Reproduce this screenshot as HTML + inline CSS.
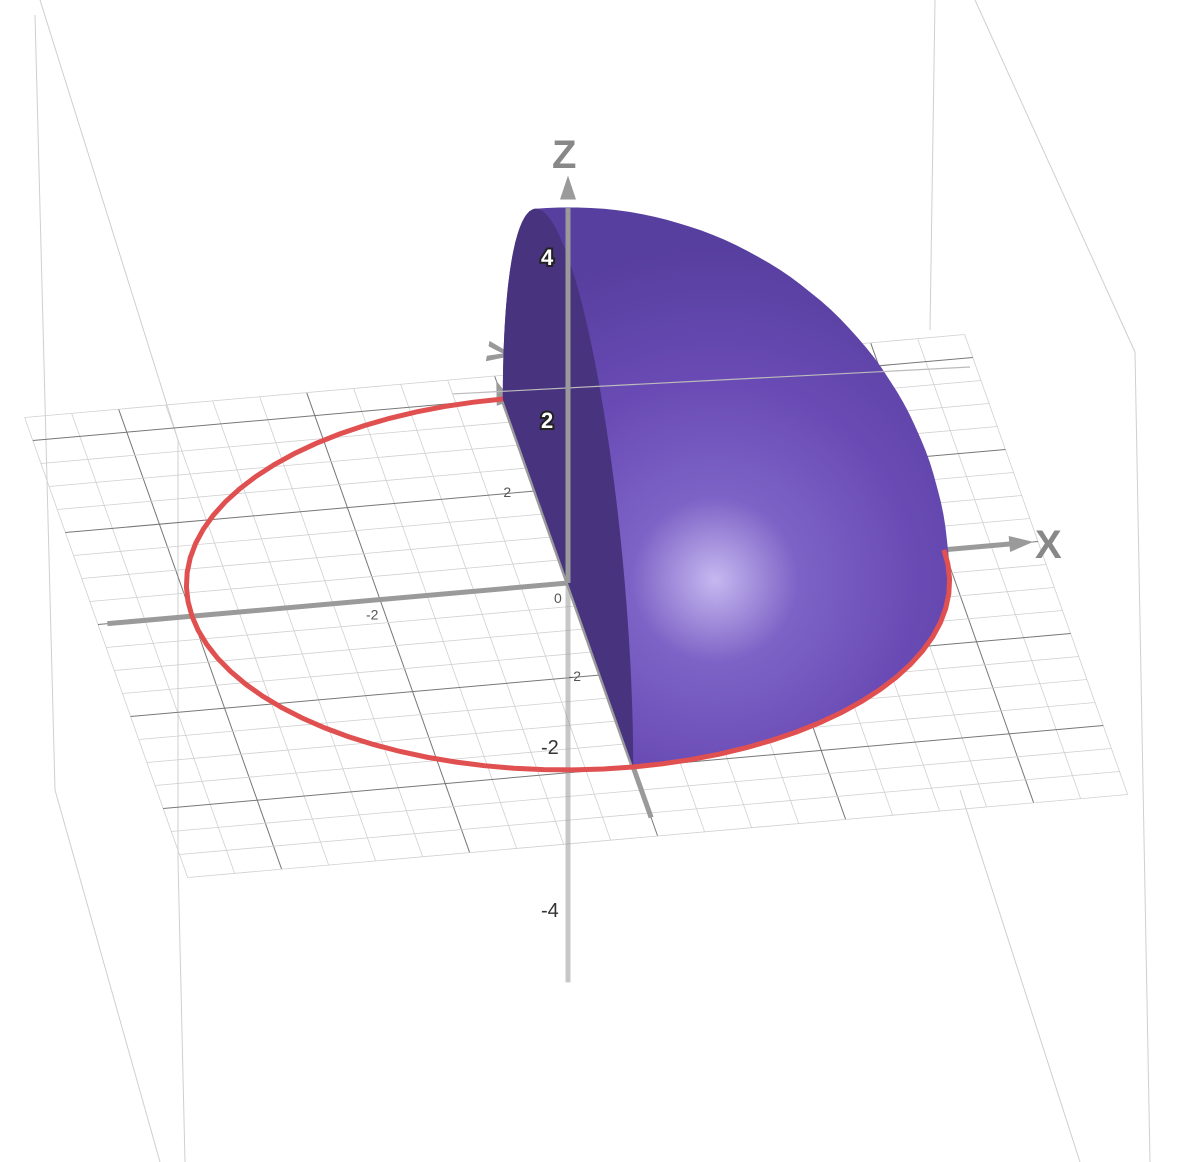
<!DOCTYPE html>
<html><head><meta charset="utf-8"><style>
html,body{margin:0;padding:0;background:#fff;}
svg{display:block;font-family:"Liberation Sans",sans-serif;}
</style></head><body>
<svg id="c" width="1180" height="1162" viewBox="0 0 1180 1162">
<defs>
<radialGradient id="sph" cx="715" cy="580" r="330" gradientUnits="userSpaceOnUse">
<stop offset="0" stop-color="#c6b8f0"/><stop offset="0.25" stop-color="#7d63c6"/><stop offset="0.6" stop-color="#6a4bb5"/><stop offset="1" stop-color="#573f9f"/>
</radialGradient>
</defs>
<g id="box" stroke="#c8c8c8" stroke-width="1" fill="none"></g>
<g id="grid"></g>
<g id="axes"></g>
<g id="back"></g>
<g id="surf"></g>
<g id="front"></g>
</svg>
<script>
const radius = 4;
const zTicks = [-4, -2, 2, 4];
const xTicks = [-2, 0];
const yTicks = [2, -2];
const gridXRange = [-5, 5];
const gridYRange = [-5.5, 4.5];
const O=[568,583], EX=[94,-8.3], EY=[-16.3,-46], EZ=[0,-81.5];
function P(x,y,z){return [O[0]+x*EX[0]+y*EY[0]+z*EZ[0], O[1]+x*EX[1]+y*EY[1]+z*EZ[1]];}
const NS='http://www.w3.org/2000/svg';
function mk(par,tag,at){const e=document.createElementNS(NS,tag);for(const k in at)e.setAttribute(k,at[k]);document.getElementById(par).appendChild(e);return e;}
function line(par,a,b,st,w){return mk(par,'line',{x1:a[0],y1:a[1],x2:b[0],y2:b[1],stroke:st,'stroke-width':w});}
const boxL=[[[35,15],[55,790]],[[40,0],[178,440]],[[935,0],[930,330]],[[975,0],[1135,352]],[[1135,352],[1150,1162]],[[178,860],[185,1162]],[[55,790],[160,1162]],[[960,790],[1080,1162]],[[178,440],[178,860]]];
boxL.forEach(l=>{const e=line('box',l[0],l[1],'#cfcfcf',1);

});
for(let x=gridXRange[0];x<=gridXRange[1]+1e-9;x+=0.5){const major=Math.abs(x%2)<1e-9;
const e=line('grid',P(x,gridYRange[0],0),P(x,gridYRange[1],0),major?'#777':'#d0d0d0',major?1:0.8);

}
for(let y=gridYRange[0];y<=gridYRange[1]+1e-9;y+=0.5){const major=Math.abs(y%2)<1e-9;
const e=line('grid',P(gridXRange[0],y,0),P(gridXRange[1],y,0),major?'#777':'#d0d0d0',major?1:0.8);

}
function axis(par,a,b,name,op){const e=line(par,a,b,'#9a9a9a',5);e.setAttribute('opacity',op);

}
axis('axes',P(-4.9,0,0),P(4.7,0,0),'x-axis',1);
axis('axes',P(0,-5.1,0),P(0,4.2,0),'y-axis',1);
axis('axes',P(0,0,0),P(0,0,-4.9),'z-axis-lower',0.55);
function arrow(par,tip,dir,name){const [dx,dy]=dir,l=Math.hypot(dx,dy),ux=dx/l,uy=dy/l;
const b=[tip[0]-ux*24,tip[1]-uy*24];const p=mk(par,'polygon',{points:`${tip[0]},${tip[1]} ${b[0]-uy*8},${b[1]+ux*8} ${b[0]+uy*8},${b[1]-ux*8}`,fill:'#9a9a9a'});

}
arrow('axes',P(4.95,0,0),EX,'x-arrow');arrow('axes',P(0,4.4,0),EY,'y-arrow');
function txt(par,s,p,size,fill,name,extra){const t=mk(par,'text',Object.assign({x:p[0],y:p[1],'font-size':size,fill:fill},extra||{}));t.textContent=s;

return t;}
xTicks.forEach(v=>{const p=P(v,0,0);txt('axes',v===0?'0':String(v),[p[0]-14,p[1]+20],14,'#555','x-tick-label');});
yTicks.forEach(v=>{const p=P(0,v,0);txt('axes',String(v),[p[0]-32,p[1]+6],14,'#555','y-tick-label');});
txt('axes','X',[1035,558],40,'#888','x-axis-title',{'font-weight':'bold'});
txt('axes','y',[478,368],38,'#999','y-axis-title',{'font-weight':'bold',transform:'rotate(-80 490 350)'});
function circPath(t0,t1){const a=[];for(let i=0;i<=60;i++){const t=t0+(t1-t0)*i/60;a.push(P(radius*Math.cos(t),radius*Math.sin(t),0));}return 'M'+a.map(p=>p.join(',')).join(' L');}
const cb=mk('back','path',{d:circPath(0,Math.PI/2),fill:'none',stroke:'#e05050','stroke-width':5});


const pts=[];
for(let i=0;i<=40;i++)for(let j=0;j<=40;j++){const th=Math.PI*i/40,ph=Math.PI/2*j/40;
pts.push(P(radius*Math.cos(ph)*Math.sin(th), radius*Math.cos(th), radius*Math.sin(th)*Math.sin(ph)));}
for(let i=0;i<=40;i++){const t=Math.PI*i/40;pts.push(P(0,radius*Math.cos(t),radius*Math.sin(t)));}
pts.sort((a,b)=>a[0]-b[0]||a[1]-b[1]);
function cr(o,a,b){return (a[0]-o[0])*(b[1]-o[1])-(a[1]-o[1])*(b[0]-o[0]);}
const lo=[],up=[];for(const p of pts){while(lo.length>=2&&cr(lo[lo.length-2],lo[lo.length-1],p)<=0)lo.pop();lo.push(p);}
for(let i=pts.length-1;i>=0;i--){const p=pts[i];while(up.length>=2&&cr(up[up.length-2],up[up.length-1],p)<=0)up.pop();up.push(p);}
const hull=lo.slice(0,-1).concat(up.slice(0,-1));
const body=mk('surf','polygon',{points:hull.map(p=>p.join(',')).join(' '),fill:'url(#sph)'});


const face=[];for(let i=0;i<=60;i++){const t=Math.PI*i/60;face.push(P(0,radius*Math.cos(t),radius*Math.sin(t)));}
const fc=mk('surf','polygon',{points:face.map(p=>p.join(',')).join(' '),fill:'#48337f'});


const pl=line('surf',P(-0.5,4.2,0),[970,367],'#bbb',1.2);


axis('front',P(0,0,0),P(0,0,4.6),'z-axis-upper',1);
arrow('front',P(0,0,5.0),EZ,'z-arrow');
txt('front','Z',[552,168],40,'#888','z-axis-title',{'font-weight':'bold'});
zTicks.forEach(v=>{const p=P(0,0,v);txt(v>0?'front':'axes',String(v),[p[0]-27,p[1]+8],v>0?22:20,v>0?'#fff':'#333','z-tick-label',v>0?{stroke:'#222','stroke-width':4,'paint-order':'stroke','font-weight':'bold'}:{});});
const c=mk('front','path',{d:circPath(Math.PI/2,2*Math.PI),fill:'none',stroke:'#e05050','stroke-width':5});


</script>
</body></html>
